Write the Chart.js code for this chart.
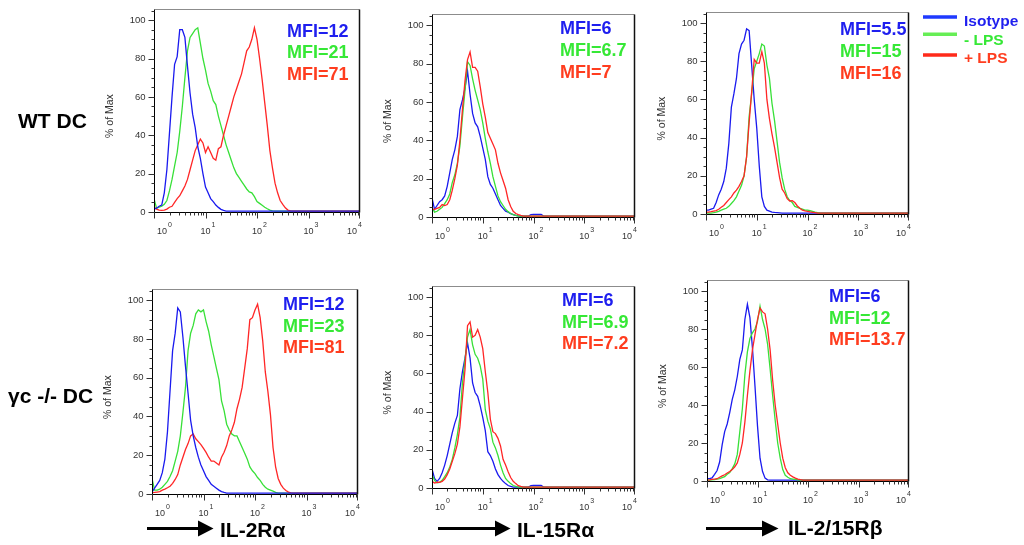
<!DOCTYPE html>
<html>
<head>
<meta charset="utf-8">
<script src="https://cdn.jsdelivr.net/npm/chart.js@4.4.1/dist/chart.umd.min.js"></script>
<style>
html, body { margin: 0; padding: 0; background: #fff; }
#page { position: relative; width: 1024px; height: 545px; overflow: hidden; font-family: "Liberation Sans", Arial, sans-serif; }
#page canvas { position: absolute; }
#overlay { position: absolute; left: 0; top: 0; pointer-events: none; }
</style>
</head>
<body>
<div id="page">
  <canvas id="p1"></canvas>
  <canvas id="p2"></canvas>
  <canvas id="p3"></canvas>
  <canvas id="p4"></canvas>
  <canvas id="p5"></canvas>
  <canvas id="p6"></canvas>

  <svg id="overlay" width="1024" height="545" font-family="Liberation Sans, Arial, sans-serif" font-weight="bold">
    <!-- row labels -->
    <text x="18" y="127.5" font-size="21" fill="#000">WT DC</text>
    <text x="8" y="402.5" font-size="21" fill="#000">γc -/- DC</text>

    <!-- MFI values -->
    <g font-size="18">
      <text x="287" y="36.7" fill="#1f1fef">MFI=12</text>
      <text x="287" y="58.4" fill="#36e836">MFI=21</text>
      <text x="287" y="80" fill="#ff3d1f">MFI=71</text>

      <text x="560" y="34" fill="#1f1fef">MFI=6</text>
      <text x="560" y="56" fill="#36e836">MFI=6.7</text>
      <text x="560" y="77.7" fill="#ff3d1f">MFI=7</text>

      <text x="840" y="35" fill="#1f1fef">MFI=5.5</text>
      <text x="840" y="57" fill="#36e836">MFI=15</text>
      <text x="840" y="79" fill="#ff3d1f">MFI=16</text>

      <text x="283" y="310" fill="#1f1fef">MFI=12</text>
      <text x="283" y="331.7" fill="#36e836">MFI=23</text>
      <text x="283" y="353.4" fill="#ff3d1f">MFI=81</text>

      <text x="562" y="306" fill="#1f1fef">MFI=6</text>
      <text x="562" y="327.7" fill="#36e836">MFI=6.9</text>
      <text x="562" y="349.4" fill="#ff3d1f">MFI=7.2</text>

      <text x="829" y="302" fill="#1f1fef">MFI=6</text>
      <text x="829" y="323.7" fill="#36e836">MFI=12</text>
      <text x="829" y="345.4" fill="#ff3d1f">MFI=13.7</text>
    </g>

    <!-- legend -->
    <line x1="923" y1="17" x2="957" y2="17" stroke="#1f3aff" stroke-width="3.5"/>
    <line x1="923" y1="34.3" x2="957" y2="34.3" stroke="#66ee55" stroke-width="3.5"/>
    <line x1="923" y1="55" x2="957" y2="55" stroke="#ff2a1a" stroke-width="3.5"/>
    <g font-size="15.5">
      <text x="964" y="26" fill="#1f1fef">Isotype</text>
      <text x="964" y="45" fill="#36e836">- LPS</text>
      <text x="964" y="63.3" fill="#ff3d1f">+ LPS</text>
    </g>

    <!-- x-axis captions with arrows -->
    <line x1="147" y1="528.5" x2="200" y2="528.5" stroke="#000" stroke-width="3"/>
    <polygon points="198,520.5 213.5,528.5 198,536.5" fill="#000"/>
    <line x1="438" y1="528.5" x2="497" y2="528.5" stroke="#000" stroke-width="3"/>
    <polygon points="495,520.5 510.5,528.5 495,536.5" fill="#000"/>
    <line x1="706" y1="528.5" x2="764" y2="528.5" stroke="#000" stroke-width="3"/>
    <polygon points="762,520.5 778.5,528.5 762,536.5" fill="#000"/>
    <g font-size="21" fill="#000">
      <text x="220" y="537">IL-2Rα</text>
      <text x="517" y="537">IL-15Rα</text>
      <text x="788" y="535">IL-2/15Rβ</text>
    </g>
  </svg>
</div>

<script>
// x positions: log10 of fluorescence (decades)
const logDecades = [
  0, 0.05, 0.1, 0.15, 0.2, 0.25, 0.3, 0.35, 0.4, 0.45,
  0.5, 0.55, 0.6, 0.65, 0.7, 0.75, 0.8, 0.85, 0.9, 0.95,
  1, 1.05, 1.1, 1.15, 1.2, 1.25, 1.3, 1.35, 1.4, 1.45,
  1.5, 1.55, 1.6, 1.65, 1.7, 1.75, 1.8, 1.85, 1.9, 1.95,
  2, 2.05, 2.1, 2.15, 2.2, 2.25, 2.3, 2.35, 2.4, 2.45,
  2.5, 2.55, 2.6, 2.65, 2.7, 2.75, 2.8, 4
];
const yTicks = [0, 20, 40, 60, 80, 100];
const xDecades = [0, 1, 2, 3, 4];
const yMax = 105.8;

// WT DC, IL-2Ra (% of max)
const wtIL2Ra_iso = [
  1.5, 2, 3, 3.6, 10, 22, 41, 60, 77, 81,
  95, 95, 91, 76, 62, 51, 44, 34, 28, 20,
  13, 10, 7, 5.4, 3.6, 2.4, 1.4, 0.8, 0.5, 0.5,
  0.5, 0.5, 0.5, 0.5, 0.5, 0.5, 0.5, 0.5, 0.5, 0.5,
  0.5, 0.5, 0.5, 0.5, 0.5, 0.5, 0.5, 0.5, 0.5, 0.5,
  0.5, 0.5, 0.5, 0.5, 0.5, 0.5, 0.5, 0.5
];
const wtIL2Ra_neg = [
  7, 2, 2.5, 3, 4, 6, 11, 17, 24, 31,
  42, 55, 70, 84, 91, 93, 95, 96, 88, 80,
  74, 67, 63, 58, 56, 50, 45, 40, 35, 31,
  27, 23, 20, 18, 16, 14, 12, 10.5, 10, 8,
  5.5, 4.5, 3.5, 2.5, 1.7, 1, 0.6, 0.5, 0.5, 0.5,
  0.5, 0.5, 0.5, 0.5, 0.5, 0.5, 0.5, 0.5
];
const wtIL2Ra_lps = [
  2.5, 1.5, 1, 0.8, 1, 1.5, 2.5, 3, 5, 7,
  8.5, 11, 13.5, 17, 22, 27, 32, 35, 38, 36,
  31, 34, 31, 28, 27, 33, 34, 40, 45, 50,
  55, 60, 64, 68, 72, 78, 84, 86, 90, 96,
  90, 80, 69, 57, 45, 32, 23, 15, 10, 6,
  4, 2.2, 1, 0.6, 0.5, 0.5, 0.5, 0.5
];

// WT DC, IL-15Ra
const wtIL15Ra_iso = [
  10, 4, 6, 8, 9, 11, 16, 23, 30, 35,
  42, 56, 61, 67, 76, 64, 54, 49, 47, 42,
  36, 30, 21, 17, 15, 12, 9, 6, 4.5, 3,
  2.5, 1.8, 1.2, 0.8, 0.6, 0.5, 0.5, 0.5, 0.5, 1.2,
  1.3, 1.3, 1.3, 1.3, 0.5, 0.5, 0.5, 0.5, 0.5, 0.5,
  0.5, 0.5, 0.5, 0.5, 0.5, 0.5, 0.5, 0.5
];
const wtIL15Ra_neg = [
  5, 2.5, 3, 4, 5, 7, 9, 12, 18, 22,
  28, 37, 52, 66, 81, 79, 72, 66, 61, 56,
  49, 41, 34, 28, 21, 16, 11, 8, 6, 4,
  2.8, 1.8, 1.2, 0.8, 0.5, 0.5, 0.5, 0.5, 0.5, 0.5,
  0.5, 0.5, 0.5, 0.5, 0.5, 0.5, 0.5, 0.5, 0.5, 0.5,
  0.5, 0.5, 0.5, 0.5, 0.5, 0.5, 0.5, 0.5
];
const wtIL15Ra_lps = [
  4, 4, 4.5, 5, 6.5, 6, 6.5, 9, 14, 20,
  27, 40, 56, 71, 82, 86, 78, 78, 76, 68,
  59, 52, 44, 41, 38, 35, 28, 23, 19, 15,
  9, 5.5, 3, 1.8, 1.2, 0.8, 0.5, 0.5, 0.5, 0.5,
  0.5, 0.5, 0.5, 0.5, 0.5, 0.5, 0.5, 0.5, 0.5, 0.5,
  0.5, 0.5, 0.5, 0.5, 0.5, 0.5, 0.5, 0.5
];

// WT DC, IL-2/15Rb
const wtIL215Rb_iso = [
  2, 2, 2.5, 3, 6, 10, 13, 17, 24, 37,
  56, 63, 71, 84, 89, 91, 97, 96, 78, 60,
  45, 25, 9, 4, 2, 1.5, 1, 0.8, 0.7, 0.6,
  0.5, 0.5, 0.5, 0.5, 0.5, 0.5, 0.5, 0.5, 0.5, 0.5,
  0.5, 0.5, 0.5, 0.5, 0.5, 0.5, 0.5, 0.5, 0.5, 0.5,
  0.5, 0.5, 0.5, 0.5, 0.5, 0.5, 0.5, 0.5
];
const wtIL215Rb_neg = [
  0.5, 0.5, 0.5, 0.7, 1, 1.4, 2, 2.5, 3, 4,
  5.5, 7, 9, 12, 15, 20, 30, 51, 63, 76,
  80, 84, 89, 88, 78, 71, 58, 49, 38, 27,
  19, 13, 9, 7, 6, 4, 3.5, 3, 2.5, 2,
  2, 1.7, 1.4, 1, 0.7, 0.5, 0.5, 0.5, 0.5, 0.5,
  0.5, 0.5, 0.5, 0.5, 0.5, 0.5, 0.5, 0.5
];
const wtIL215Rb_lps = [
  1, 1, 1.2, 1.5, 1.8, 2.5, 3.5, 4.5, 6, 7.5,
  9, 11, 12.5, 14.5, 17, 20, 30, 48, 64, 81,
  79, 79, 85, 79, 60, 50, 42, 35, 27, 19,
  13, 11, 8, 6.8, 7, 6, 4.2, 3, 2, 1.6,
  1.4, 1.1, 0.9, 0.7, 0.5, 0.5, 0.5, 0.5, 0.5, 0.5,
  0.5, 0.5, 0.5, 0.5, 0.5, 0.5, 0.5, 0.5
];

// gc-/- DC, IL-2Ra
const gcIL2Ra_iso = [
  1, 3, 5, 7, 11, 18, 32, 53, 74, 83,
  96, 94, 81, 66, 52, 38, 30, 24, 19, 15,
  12, 9, 7, 5, 4, 3, 2, 1.2, 0.8, 0.5,
  0.5, 0.5, 0.5, 0.5, 0.5, 0.5, 0.5, 0.5, 0.5, 0.5,
  0.5, 0.5, 0.5, 0.5, 0.5, 0.5, 0.5, 0.5, 0.5, 0.5,
  0.5, 0.5, 0.5, 0.5, 0.5, 0.5, 0.5, 0.5
];
const gcIL2Ra_neg = [
  8, 2, 2, 2.5, 3.5, 5, 6.5, 9, 12, 17,
  22, 30, 42, 55, 74, 83, 87, 93, 95, 94,
  95, 89, 84, 77, 71, 65, 59, 48, 43, 36,
  33, 31, 30, 30, 27, 24, 21, 18, 14, 12,
  10.5, 8.5, 7, 5, 3.5, 2.5, 2, 1.5, 0.8, 0.5,
  0.5, 0.5, 0.5, 0.5, 0.5, 0.5, 0.5, 0.5
];
const gcIL2Ra_lps = [
  0.7, 0.8, 1, 1.2, 2, 2.5, 3.2, 4, 5.5, 7.5,
  10, 15, 19, 23, 26, 30, 31, 28.5, 27, 25.5,
  23.5, 21.5, 19, 17, 17, 16, 15, 19, 21.5, 25,
  30, 33, 37, 44, 49, 55, 65, 75, 90, 91,
  95, 98, 91, 79, 63, 53, 41, 24, 14, 8,
  5, 3, 1.8, 1, 0.6, 0.5, 0.5, 0.5
];

// gc-/- DC, IL-15Ra
const gcIL15Ra_iso = [
  10, 5, 3.5, 5, 8, 12, 17, 23, 29, 34,
  38, 52, 61, 68, 76, 68, 55, 50, 48, 43,
  37, 30, 19, 17, 14, 10, 7, 5, 3.5, 2.3,
  1.3, 0.9, 0.5, 0.5, 0.5, 0.5, 0.5, 0.5, 0.5, 1.2,
  1.3, 1.3, 1.3, 1.3, 0.5, 0.5, 0.5, 0.5, 0.5, 0.5,
  0.5, 0.5, 0.5, 0.5, 0.5, 0.5, 0.5, 0.5
];
const gcIL15Ra_neg = [
  7, 4, 2.7, 3, 4, 6, 8, 11, 15, 21,
  28, 37, 55, 67, 79, 83, 75, 70, 68, 64,
  57, 41, 35, 31, 24, 21, 17, 12, 8, 5,
  3.5, 2.3, 1.3, 0.9, 0.5, 0.5, 0.5, 0.5, 0.5, 0.5,
  0.5, 0.5, 0.5, 0.5, 0.5, 0.5, 0.5, 0.5, 0.5, 0.5,
  0.5, 0.5, 0.5, 0.5, 0.5, 0.5, 0.5, 0.5
];
const gcIL15Ra_lps = [
  3.5, 2.6, 3, 3, 3.5, 4.7, 7, 10, 14, 18,
  23, 32, 47, 62, 85, 87, 79, 80, 83, 79,
  73, 61, 50, 36, 29.5, 28.5, 26, 22, 15, 12,
  8.5, 5.5, 3.5, 2.3, 1.2, 0.8, 0.5, 0.5, 0.5, 0.5,
  0.5, 0.5, 0.5, 0.5, 0.5, 0.5, 0.5, 0.5, 0.5, 0.5,
  0.5, 0.5, 0.5, 0.5, 0.5, 0.5, 0.5, 0.5
];

// gc-/- DC, IL-2/15Rb
const gcIL215Rb_iso = [
  1.2, 1.3, 1.6, 3.5, 5.5, 10, 19, 26, 30, 36,
  43, 48, 55, 64, 69, 85, 93, 86, 70, 50,
  29, 12, 5, 1.5, 0.6, 0.5, 0.5, 0.5, 0.5, 0.5,
  0.5, 0.5, 0.5, 0.5, 0.5, 0.5, 0.5, 0.5, 0.5, 0.5,
  0.5, 0.5, 0.5, 0.5, 0.5, 0.5, 0.5, 0.5, 0.5, 0.5,
  0.5, 0.5, 0.5, 0.5, 0.5, 0.5, 0.5, 0.5
];
const gcIL215Rb_neg = [
  0.5, 0.5, 0.6, 0.7, 1, 1.3, 1.8, 2.3, 3.5, 4.5,
  6.5, 9, 14, 26, 38, 56, 68, 75, 78, 80,
  84, 92, 85, 80, 72, 59, 45, 32, 20, 12,
  6, 3, 2, 1.2, 1, 0.8, 0.6, 0.5, 0.5, 0.5,
  0.5, 0.5, 0.5, 0.5, 0.5, 0.5, 0.5, 0.5, 0.5, 0.5,
  0.5, 0.5, 0.5, 0.5, 0.5, 0.5, 0.5, 0.5
];
const gcIL215Rb_lps = [
  0.5, 0.6, 0.8, 1, 1.2, 2, 2.7, 3.3, 4.2, 5,
  6, 7.5, 9.5, 14, 20, 31, 45, 58, 69, 77,
  85, 91, 89, 88, 80, 69, 53, 40, 30, 20,
  12, 7, 4.3, 3, 2.2, 1.5, 1, 0.7, 0.5, 0.5,
  0.5, 0.5, 0.5, 0.5, 0.5, 0.5, 0.5, 0.5, 0.5, 0.5,
  0.5, 0.5, 0.5, 0.5, 0.5, 0.5, 0.5, 0.5
];

const lineColors = { iso: '#1a1aef', neg: '#38e038', lps: '#ff2626' };

// plot boxes on the page (left, top, width, height of the frame)
const panels = [
  { id: 'p1', l: 154, t: 9,   w: 206, h: 203, iso: wtIL2Ra_iso,  neg: wtIL2Ra_neg,  lps: wtIL2Ra_lps,  order: ['iso', 'lps', 'neg'] },
  { id: 'p2', l: 432, t: 14,  w: 203, h: 203, iso: wtIL15Ra_iso, neg: wtIL15Ra_neg, lps: wtIL15Ra_lps, order: ['lps', 'neg', 'iso'] },
  { id: 'p3', l: 706, t: 12,  w: 203, h: 202, iso: wtIL215Rb_iso, neg: wtIL215Rb_neg, lps: wtIL215Rb_lps, order: ['lps', 'neg', 'iso'] },
  { id: 'p4', l: 152, t: 289, w: 206, h: 205, iso: gcIL2Ra_iso,  neg: gcIL2Ra_neg,  lps: gcIL2Ra_lps,  order: ['iso', 'lps', 'neg'] },
  { id: 'p5', l: 432, t: 286, w: 203, h: 202, iso: gcIL15Ra_iso, neg: gcIL15Ra_neg, lps: gcIL15Ra_lps, order: ['lps', 'neg', 'iso'] },
  { id: 'p6', l: 707, t: 280, w: 202, h: 201, iso: gcIL215Rb_iso, neg: gcIL215Rb_neg, lps: gcIL215Rb_lps, order: ['lps', 'neg', 'iso'] }
];

const PAD = { left: 50, right: 8, top: 4, bottom: 28 };
const FONT = '"Liberation Sans", Arial, sans-serif';

// FlowJo style frame: box, ticks, 10^n labels, "% of Max"
const facsFrame = {
  id: 'facsFrame',
  afterDraw(chart) {
    const { ctx, chartArea: a, scales: { x, y } } = chart;
    const L = Math.round(a.left) + 0.5, B = Math.round(a.bottom) + 0.5;
    const R = Math.round(a.right) - 0.5, T = Math.round(a.top) + 0.5;
    ctx.save();

    ctx.lineWidth = 1;
    ctx.strokeStyle = '#8c8c8c';
    ctx.beginPath(); ctx.moveTo(L, T); ctx.lineTo(R, T); ctx.stroke();
    ctx.strokeStyle = '#111';
    ctx.lineWidth = 1.5;
    ctx.beginPath(); ctx.moveTo(R, T); ctx.lineTo(R, B); ctx.stroke();
    ctx.lineWidth = 1;
    ctx.strokeStyle = '#000';
    ctx.beginPath(); ctx.moveTo(L, T); ctx.lineTo(L, B); ctx.lineTo(R, B); ctx.stroke();

    // y ticks
    ctx.strokeStyle = '#333';
    ctx.beginPath();
    for (let v = 0; v <= 105; v += 5) {
      const py = Math.round(y.getPixelForValue(v)) + 0.5;
      const len = v % 20 === 0 ? 6 : 3;
      ctx.moveTo(L - len, py); ctx.lineTo(L, py);
    }
    // x ticks, log minor ticks
    for (let n = 0; n < 4; n++) {
      for (let k = 1; k <= 9; k++) {
        const px = Math.round(x.getPixelForValue(n + Math.log10(k))) + 0.5;
        const len = k === 1 ? 6 : 3;
        ctx.moveTo(px, B); ctx.lineTo(px, B + len);
      }
    }
    const px4 = Math.round(x.getPixelForValue(4)) - 0.5;
    ctx.moveTo(px4, B); ctx.lineTo(px4, B + 6);
    ctx.stroke();

    // y labels
    ctx.fillStyle = '#333';
    ctx.font = '9.5px ' + FONT;
    ctx.textAlign = 'right';
    ctx.textBaseline = 'middle';
    yTicks.forEach(v => ctx.fillText(String(v), L - 9, y.getPixelForValue(v)));

    // x labels 10^n
    ctx.textBaseline = 'alphabetic';
    xDecades.forEach((n, i) => {
      let cx = x.getPixelForValue(n);
      if (i === 0) cx += 8;
      if (i === xDecades.length - 1) cx -= 8;
      ctx.font = '9px ' + FONT;
      ctx.textAlign = 'center';
      ctx.fillText('10', cx, B + 21);
      ctx.font = '7px ' + FONT;
      ctx.textAlign = 'left';
      ctx.fillText(String(n), cx + 6, B + 14);
    });

    // axis title
    ctx.translate(a.left - 44, y.getPixelForValue(50));
    ctx.rotate(-Math.PI / 2);
    ctx.font = '10.5px ' + FONT;
    ctx.textAlign = 'center';
    ctx.textBaseline = 'middle';
    ctx.fillText('% of Max', 0, 0);
    ctx.restore();
  }
};

panels.forEach(p => {
  const cv = document.getElementById(p.id);
  cv.width = p.w + PAD.left + PAD.right;
  cv.height = p.h + PAD.top + PAD.bottom;
  cv.style.left = (p.l - PAD.left) + 'px';
  cv.style.top = (p.t - PAD.top) + 'px';

  const datasets = p.order.map(key => ({
    label: key,
    data: logDecades.map((d, i) => ({ x: d, y: p[key][i] })),
    borderColor: lineColors[key],
    borderWidth: 1.3,
    pointRadius: 0,
    tension: 0,
    fill: false
  }));

  new Chart(cv, {
    type: 'line',
    data: { datasets },
    options: {
      responsive: false,
      animation: false,
      events: [],
      layout: { padding: PAD },
      plugins: { legend: { display: false }, tooltip: { enabled: false } },
      scales: {
        x: { type: 'linear', min: 0, max: 4, display: false },
        y: { min: 0, max: yMax, display: false }
      }
    },
    plugins: [facsFrame]
  });
});
</script>
</body>
</html>
